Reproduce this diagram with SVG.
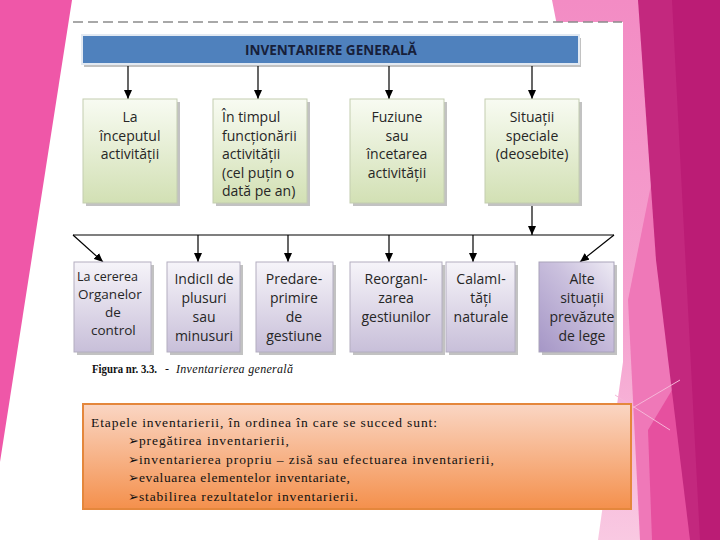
<svg xmlns="http://www.w3.org/2000/svg" width="720" height="540" viewBox="0 0 720 540">
<defs>
<style>
.bx{font-family:"Open Sans","Noto Sans",sans-serif;font-size:14px;fill:#262626;text-anchor:middle}
.lt{text-anchor:start}
.hd{font-family:"Open Sans","Noto Sans",sans-serif;font-size:13.5px;font-weight:bold;fill:#17203a;text-anchor:middle}
.tm{font-family:"Liberation Serif","Times New Roman","DejaVu Serif",serif;font-size:13.5px;fill:#111}
.cap{font-family:"Liberation Serif","Times New Roman","DejaVu Serif",serif;font-size:12px;fill:#111}
.bul{font-family:"DejaVu Sans",sans-serif;font-size:13px}
.ln{stroke:#000;stroke-width:1.2;fill:none}
.sh{fill:#8f8f8f;opacity:0.55}
.gb{fill:url(#gGreen);stroke:#c3cdb0;stroke-width:1}
.pb{fill:url(#gPurp);stroke:#b3aec0;stroke-width:1}
</style>
<linearGradient id="gGreen" x1="0" y1="0" x2="0" y2="1"><stop offset="0" stop-color="#f8fbf2"/><stop offset="1" stop-color="#d2e0b4"/></linearGradient>
<linearGradient id="gPurp" x1="0" y1="0" x2="0" y2="1"><stop offset="0" stop-color="#f6f4f9"/><stop offset="1" stop-color="#c8bfd9"/></linearGradient>
<linearGradient id="gPurpD" x1="0" y1="1" x2="1" y2="0"><stop offset="0" stop-color="#a596c6"/><stop offset="0.6" stop-color="#cbc1de"/><stop offset="1" stop-color="#eeebf4"/></linearGradient>
<linearGradient id="gOr" x1="0" y1="0" x2="0" y2="1"><stop offset="0" stop-color="#fad6c4"/><stop offset="1" stop-color="#f4904c"/></linearGradient>
<linearGradient id="gPinkR" x1="0" y1="0" x2="0" y2="1"><stop offset="0" stop-color="#f38cc4"/><stop offset="0.6" stop-color="#f5a2cf"/><stop offset="1" stop-color="#f9c9e2"/></linearGradient>
<marker id="ah" markerWidth="9" markerHeight="8" refX="9" refY="4" orient="auto" markerUnits="userSpaceOnUse"><path d="M0,0 L9,4 L0,8 Z" fill="#000"/></marker>
</defs>
<rect width="720" height="540" fill="#fff"/>
<g id="background">
<polygon points="0,0 72,0 0,462" fill="#ef57a8"/>
<polygon points="552,0 720,0 720,540 598,540 623,362" fill="url(#gPinkR)"/>
<polygon points="628,300 652,180 690,540 640,540" fill="#ef78b8"/>
<polygon points="648,430 678,380 696,540 652,540" fill="#e6509f"/>
<polygon points="638,0 720,0 720,540 690,540 656,260" fill="#c3287e"/>
<polygon points="672,0 720,0 720,540 700,540" fill="#bb1c75"/>
<line x1="612" y1="420" x2="680" y2="380" stroke="#f6b6d8" stroke-width="1"/>
<line x1="615" y1="395" x2="670" y2="430" stroke="#f6b6d8" stroke-width="1"/>
<rect x="73" y="22" width="550" height="340" fill="#fff"/>
<line x1="73" y1="22" x2="622" y2="22" stroke="#8c8c8c" stroke-width="1.5" stroke-dasharray="10 5"/>
</g>
<g id="header">
<rect x="84" y="38" width="497" height="29" class="sh"/>
<rect x="82" y="35" width="497" height="29" fill="#4f81bd" stroke="#e2e9f2" stroke-width="2"/>
<text x="331" y="55" class="hd">INVENTARIERE GENERALĂ</text>
</g>
<g id="connectors">
<line x1="128" y1="66" x2="128" y2="99" class="ln" marker-end="url(#ah)"/>
<line x1="258" y1="66" x2="258" y2="99" class="ln" marker-end="url(#ah)"/>
<line x1="389" y1="66" x2="389" y2="99" class="ln" marker-end="url(#ah)"/>
<line x1="532" y1="66" x2="532" y2="99" class="ln" marker-end="url(#ah)"/>
<line x1="532" y1="206" x2="532" y2="235" class="ln" marker-end="url(#ah)"/>
<line x1="73" y1="235" x2="614" y2="235" class="ln"/>
<line x1="73" y1="235" x2="103" y2="262" class="ln" marker-end="url(#ah)"/>
<line x1="198" y1="235" x2="198" y2="262" class="ln" marker-end="url(#ah)"/>
<line x1="288" y1="235" x2="288" y2="262" class="ln" marker-end="url(#ah)"/>
<line x1="389" y1="235" x2="389" y2="262" class="ln" marker-end="url(#ah)"/>
<line x1="473" y1="235" x2="473" y2="262" class="ln" marker-end="url(#ah)"/>
<line x1="614" y1="235" x2="580" y2="262" class="ln" marker-end="url(#ah)"/>
</g>
<g id="g1">
<rect x="86" y="102" width="94" height="104" class="sh"/>
<rect x="83" y="99" width="94" height="104" class="gb"/>
<text class="bx"><tspan x="130" y="122">La</tspan><tspan x="130" y="140.5">începutul</tspan><tspan x="130" y="159">activității</tspan></text>
</g>
<g id="g2">
<rect x="216" y="102" width="94" height="104" class="sh"/>
<rect x="213" y="99" width="94" height="104" class="gb"/>
<text class="bx lt"><tspan x="222" y="122">În timpul</tspan><tspan x="222" y="140.5">funcționării</tspan><tspan x="222" y="159">activității</tspan><tspan x="222" y="177.5">(cel puțin o</tspan><tspan x="222" y="196">dată pe an)</tspan></text>
</g>
<g id="g3">
<rect x="353" y="102" width="94" height="104" class="sh"/>
<rect x="350" y="99" width="94" height="104" class="gb"/>
<text class="bx"><tspan x="397" y="122">Fuziune</tspan><tspan x="397" y="140.5">sau</tspan><tspan x="397" y="159">încetarea</tspan><tspan x="397" y="177.5">activității</tspan></text>
</g>
<g id="g4">
<rect x="488" y="102" width="94" height="104" class="sh"/>
<rect x="485" y="99" width="94" height="104" class="gb"/>
<text class="bx"><tspan x="532" y="122">Situații</tspan><tspan x="532" y="140.5">speciale</tspan><tspan x="532" y="159">(deosebite)</tspan></text>
</g>
<g id="p1">
<rect x="77" y="265" width="77" height="90" class="sh"/>
<rect x="74" y="262" width="77" height="90" class="pb"/>
<text class="bx lt" style="font-size:12.5px"><tspan x="77" y="281">La cererea</tspan><tspan x="78" y="299" style="font-size:13.5px">Organelor</tspan><tspan x="105" y="317" style="font-size:13.5px">de</tspan><tspan x="91" y="335" style="font-size:13.5px">control</tspan></text>
</g>
<g id="p2">
<rect x="170" y="265" width="73" height="90" class="sh"/>
<rect x="167" y="262" width="73" height="90" class="pb"/>
<text class="bx"><tspan x="204" y="284">IndicII de</tspan><tspan x="204" y="303">plusuri</tspan><tspan x="204" y="322">sau</tspan><tspan x="204" y="341">minusuri</tspan></text>
</g>
<g id="p3">
<rect x="259" y="265" width="77" height="90" class="sh"/>
<rect x="256" y="262" width="77" height="90" class="pb"/>
<text class="bx"><tspan x="294" y="284">Predare-</tspan><tspan x="294" y="303">primire</tspan><tspan x="294" y="322">de</tspan><tspan x="294" y="341">gestiune</tspan></text>
</g>
<g id="p4">
<rect x="353" y="265" width="92" height="90" class="sh"/>
<rect x="350" y="262" width="92" height="90" class="pb"/>
<text class="bx"><tspan x="396" y="284">ReorganI-</tspan><tspan x="396" y="303">zarea</tspan><tspan x="396" y="322">gestiunilor</tspan></text>
</g>
<g id="p5">
<rect x="449" y="265" width="69" height="90" class="sh"/>
<rect x="446" y="262" width="69" height="90" class="pb"/>
<text class="bx"><tspan x="481" y="284">CalamI-</tspan><tspan x="481" y="303">tăți</tspan><tspan x="481" y="322">naturale</tspan></text>
</g>
<g id="p6">
<rect x="542" y="265" width="75" height="90" class="sh"/>
<rect x="539" y="262" width="75" height="90" fill="url(#gPurpD)" stroke="#a9a3ba" stroke-width="1"/>
<text class="bx"><tspan x="582" y="284">Alte</tspan><tspan x="582" y="303">situații</tspan><tspan x="582" y="322">prevăzute</tspan><tspan x="582" y="341">de lege</tspan></text>
</g>
<g id="caption">
<text class="cap" x="92" y="373" font-weight="bold" textLength="65" lengthAdjust="spacingAndGlyphs">Figura nr. 3.3.</text>
<text class="cap" x="165" y="373">-</text>
<text class="cap" x="176" y="373" font-style="italic" textLength="117" lengthAdjust="spacing">Inventarierea generală</text>
</g>
<g id="steps">
<rect x="83" y="404" width="548" height="105" fill="url(#gOr)" stroke="#e4873c" stroke-width="2"/>
<text class="tm" x="91" y="427" textLength="346" lengthAdjust="spacing">Etapele inventarierii, în ordinea în care se succed sunt:</text>
<text class="tm" x="128" y="445"><tspan class="bul">➢</tspan><tspan textLength="150" lengthAdjust="spacing">pregătirea inventarierii,</tspan></text>
<text class="tm" x="128" y="464"><tspan class="bul">➢</tspan><tspan textLength="355" lengthAdjust="spacing">inventarierea propriu – zisă sau efectuarea inventarierii,</tspan></text>
<text class="tm" x="128" y="482"><tspan class="bul">➢</tspan><tspan textLength="211" lengthAdjust="spacing">evaluarea elementelor inventariate,</tspan></text>
<text class="tm" x="128" y="501"><tspan class="bul">➢</tspan><tspan textLength="219" lengthAdjust="spacing">stabilirea rezultatelor inventarierii.</tspan></text>
</g>
</svg>
